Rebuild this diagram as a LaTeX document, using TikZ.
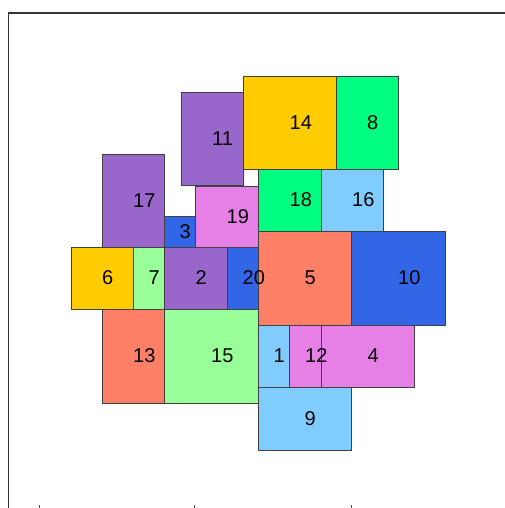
\documentclass[tikz,border=0pt]{standalone}
\usepackage{fontspec}
\setmainfont{Liberation Sans}
\usetikzlibrary{calc}
\definecolor{tpurple}{RGB}{153,102,204}
\definecolor{tyellow}{RGB}{255,204,0}
\definecolor{tgreen}{RGB}{0,255,128}
\definecolor{tlblue}{RGB}{128,204,255}
\definecolor{tblue}{RGB}{51,102,230}
\definecolor{tpink}{RGB}{230,128,230}
\definecolor{tsalmon}{RGB}{255,128,102}
\definecolor{tlgreen}{RGB}{153,255,153}
\tikzset{
  tile/.style={draw=black!75,line width=0.8pt},
  tilelabel/.style={anchor=west,inner sep=0pt,font=\fontsize{20}{24}\selectfont},
  plotframe/.style={draw=black!80,line width=1.4pt},
  tick/.style={draw=black!70,line width=0.8pt}
}
% one tile: name, colour, corners
\newcommand{\tile}[6]{%
  \filldraw[tile,fill=#2] (#3,#4) rectangle (#5,#6);
  \coordinate (c#1) at ($(#3,#4)!0.5!(#5,#6)$);}

\begin{document}
\begin{tikzpicture}[x=1pt,y=-1pt]
        \useasboundingbox (0,0) rectangle (505,508);
        \coordinate (fb) at (8.5,508);
        \coordinate (fc) at (8.5,13);
        \coordinate (fr) at (506,13);
        \draw[plotframe] (fb) -- (fc) -- (fr);

        \tile{11}{tpurple}{181}{92}{243}{185}
        \tile{17}{tpurple}{102}{154}{164}{247}
        \tile{3}{tblue}{164}{216}{195}{247}
        \tile{19}{tpink}{195}{186}{258}{247}
        \tile{14}{tyellow}{243}{76}{336}{169}
        \tile{8}{tgreen}{336}{76}{398}{169}
        \tile{18}{tgreen}{258}{169}{321}{231}
        \tile{16}{tlblue}{321}{169}{383}{231}
        \tile{5}{tsalmon}{258}{231}{351}{325}
        \tile{10}{tblue}{351}{231}{445}{325}
        \tile{6}{tyellow}{71}{247}{133}{309}
        \tile{7}{tlgreen}{133}{247}{164}{309}
        \tile{2}{tpurple}{164}{247}{227}{309}
        \tile{20}{tblue}{227}{247}{258}{309}
        \tile{13}{tsalmon}{102}{309}{164}{403}
        \tile{15}{tlgreen}{164}{309}{258}{403}
        \tile{1}{tlblue}{258}{325}{289}{387}
        \tile{12}{tpink}{289}{325}{321}{387}
        \tile{4}{tpink}{321}{325}{414}{387}
        \tile{9}{tlblue}{258}{387}{351}{450}

        \foreach \n in {1,...,20}
          \node[tilelabel] (l\n) at (c\n) {\n};

        % axis ticks, cut by the edge
        \foreach \x [count=\i] in {39,194.5,351} {
          \coordinate (ta\i) at (\x,505);
          \coordinate (tb\i) at (\x,508);
          \draw[tick] (ta\i) -- (tb\i);
        }
      \end{tikzpicture}
\end{document}
